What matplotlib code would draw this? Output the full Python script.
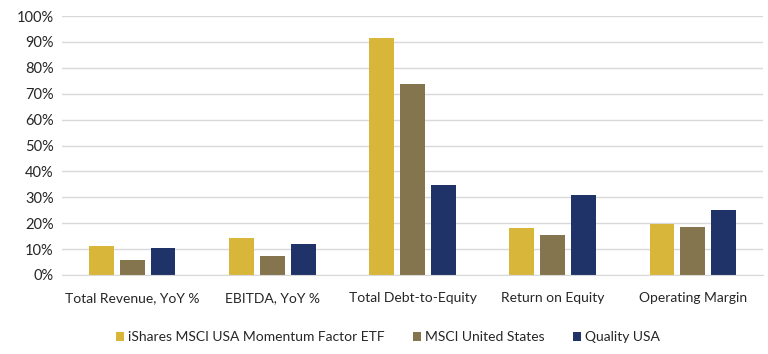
import numpy as np
import matplotlib.pyplot as plt
from matplotlib.ticker import PercentFormatter

categories = ["Total Revenue, YoY %", "EBITDA, YoY %", "Total Debt-to-Equity",
              "Return on Equity", "Operating Margin"]
momentum = [11.3, 14.3, 91.4, 18.1, 19.7]
msci_us = [5.8, 7.3, 73.7, 15.3, 18.6]
quality = [10.5, 11.9, 34.6, 30.9, 25.2]
series = ["iShares MSCI USA Momentum Factor ETF", "MSCI United States", "Quality USA"]
colors = ["#D8B63A", "#85754E", "#1F3368"]

plt.rcParams['font.family'] = ['Lato', 'DejaVu Sans']

fig = plt.figure(figsize=(7.68, 3.54), dpi=100)
ax = fig.add_axes([62 / 768, 79 / 354, 701 / 768, 259 / 354])

x = np.arange(len(categories))
width = 0.177
step = 0.22
for i, (vals, name, c) in enumerate(zip([momentum, msci_us, quality], series, colors)):
    ax.bar(x + (i - 1) * step, vals, width, color=c, label=name, zorder=2)

ax.set_xlim(-0.5, len(categories) - 0.5)
ax.set_ylim(0, 100)
ax.set_yticks(np.arange(0, 101, 10))
ax.yaxis.set_major_formatter(PercentFormatter(decimals=0))
ax.grid(axis='y', color='#D9D9D9', linewidth=1, zorder=0)
ax.set_xticks(x)
ax.set_xticklabels(categories)
ax.tick_params(axis='y', length=0, labelsize=10.5, colors='#262626', pad=6)
ax.tick_params(axis='x', length=0, labelsize=10, colors='#262626', pad=12)
for s in ['top', 'right', 'left']:
    ax.spines[s].set_visible(False)
ax.spines['bottom'].set_color('#D9D9D9')

fig.legend(loc='center', bbox_to_anchor=(0.505, 17 / 354), ncol=3, frameon=False,
           fontsize=10, handlelength=0.6, handleheight=0.6, handletextpad=0.3,
           columnspacing=2.0, labelcolor='#262626')

fig.savefig("out.png", dpi=100)
